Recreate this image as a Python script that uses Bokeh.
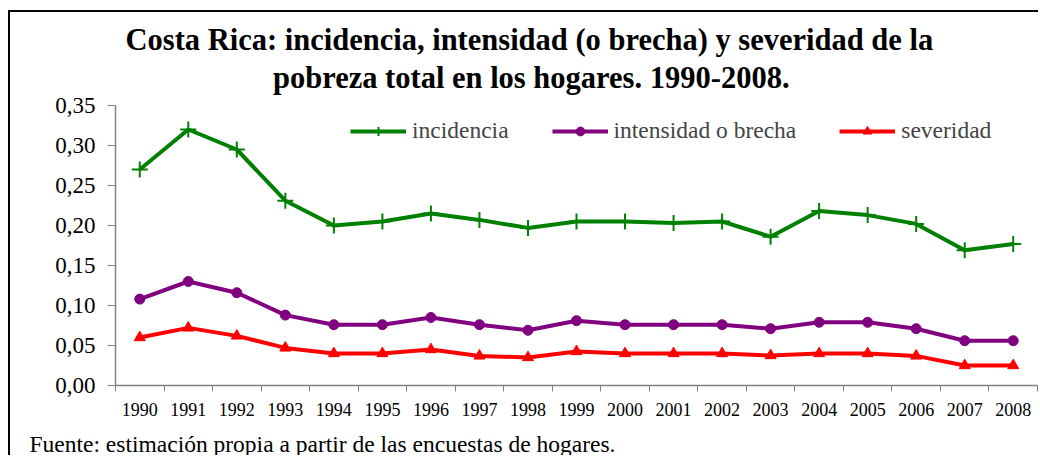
from bokeh.plotting import figure
from bokeh.models import (FixedTicker, CustomJSTickFormatter, Legend, LegendItem,
                          Title, Range1d, ColumnDataSource, LinearAxis)
from bokeh.embed import file_html
from bokeh.resources import INLINE

years = ["1990", "1991", "1992", "1993", "1994", "1995", "1996", "1997", "1998", "1999",
         "2000", "2001", "2002", "2003", "2004", "2005", "2006", "2007", "2008"]
incidencia = [0.270, 0.320, 0.295, 0.231, 0.200, 0.205, 0.215, 0.207, 0.197, 0.205,
              0.205, 0.203, 0.205, 0.186, 0.218, 0.213, 0.202, 0.169, 0.177]
intensidad = [0.108, 0.130, 0.116, 0.088, 0.076, 0.076, 0.085, 0.076, 0.069, 0.081,
              0.076, 0.076, 0.076, 0.071, 0.079, 0.079, 0.071, 0.056, 0.056]
severidad = [0.060, 0.072, 0.062, 0.047, 0.040, 0.040, 0.045, 0.037, 0.035, 0.0425,
             0.040, 0.040, 0.040, 0.0375, 0.040, 0.040, 0.037, 0.025, 0.025]
series_names = ["incidencia", "intensidad o brecha", "severidad"]
y_ticks = [0.0, 0.05, 0.10, 0.15, 0.20, 0.25, 0.30, 0.35]
y_labels = ["0,00", "0,05", "0,10", "0,15", "0,20", "0,25", "0,30", "0,35"]
title_lines = ["Costa Rica: incidencia, intensidad (o brecha) y severidad de la",
               "pobreza total en los hogares. 1990-2008."]
footer = "Fuente: estimación propia a partir de las encuestas de hogares."

SERIF = "Liberation Serif"
xpos = [i + 0.5 for i in range(len(years))]
src = ColumnDataSource(dict(x=xpos, inc=incidencia, ints=intensidad, sev=severidad))

p = figure(width=1030, height=445, output_backend="svg", toolbar_location=None, title=None,
           x_range=Range1d(0, len(years)), y_range=Range1d(0, 0.35),
           min_border_left=105, min_border_right=3, min_border_top=93, min_border_bottom=72,
           background_fill_color="white", border_fill_color="white",
           outline_line_color=None,
           styles={"border-top": "2px solid #000", "border-left": "2px solid #000",
                   "margin-left": "8px", "margin-top": "10px"})
p.grid.visible = False

# axes
ax = p.xaxis[0]
ax.ticker = FixedTicker(ticks=xpos, minor_ticks=list(range(len(years) + 1)))
ax.formatter = CustomJSTickFormatter(args=dict(labels=years),
                                     code="return labels[Math.floor(tick)];")
ax.major_tick_line_color = None
ax.major_tick_out = 0
ax.major_tick_in = 0
ax.minor_tick_out = 6
ax.minor_tick_in = 0
ax.minor_tick_line_color = "#808080"
ax.axis_line_color = "#808080"
ax.axis_line_width = 1.5
ax.major_label_standoff = 11
ax.major_label_text_font = SERIF
ax.major_label_text_font_size = "18px"
ax.major_label_text_color = "black"

# invisible spacer axis between the year labels and the source note
spacer = LinearAxis(ticker=FixedTicker(ticks=[xpos[-1]], minor_ticks=[]), axis_line_color=None,
                    major_tick_line_color="white", minor_tick_line_color=None,
                    major_tick_out=9, major_tick_in=0, minor_tick_out=0, minor_tick_in=0,
                    major_label_standoff=0, major_label_text_font_size="1px",
                    formatter=CustomJSTickFormatter(code="return '';"))
p.add_layout(spacer, "below")

ay = p.yaxis[0]
ay.ticker = FixedTicker(ticks=y_ticks, minor_ticks=[])
ay.formatter = CustomJSTickFormatter(args=dict(labels=y_labels, tvals=y_ticks), code="""
let best = 0;
for (let i = 0; i < tvals.length; i++) {
  if (Math.abs(tvals[i] - tick) < Math.abs(tvals[best] - tick)) best = i;
}
return labels[best];
""")
ay.major_tick_out = 8
ay.major_tick_in = 0
ay.major_tick_line_color = "#808080"
ay.axis_line_color = "#808080"
ay.axis_line_width = 1.5
ay.major_label_standoff = 12
ay.major_label_text_font = SERIF
ay.major_label_text_font_size = "23px"
ay.major_label_text_color = "black"

# series
GREEN, PURPLE, RED = "#008000", "#800080", "#FF0000"
l1 = p.line("x", "inc", source=src, line_color=GREEN, line_width=4)
m1 = p.scatter("x", "inc", source=src, marker="cross", size=16, line_color=GREEN, line_width=2)
l2 = p.line("x", "ints", source=src, line_color=PURPLE, line_width=4)
m2 = p.scatter("x", "ints", source=src, marker="circle", size=10, fill_color=PURPLE, line_color=PURPLE)
l3 = p.line("x", "sev", source=src, line_color=RED, line_width=4)
m3 = p.scatter("x", "sev", source=src, marker="triangle", size=11, fill_color=RED, line_color=RED)

legend = Legend(items=[LegendItem(label=series_names[0], renderers=[l1, m1]),
                       LegendItem(label=series_names[1], renderers=[l2, m2]),
                       LegendItem(label=series_names[2], renderers=[l3, m3])],
                orientation="horizontal", location=(235, 241),
                glyph_width=56, glyph_height=22, label_height=22, label_standoff=6,
                spacing=43, padding=0, margin=0,
                border_line_color=None, background_fill_alpha=0,
                label_text_font=SERIF, label_text_font_size="23.5px")
p.add_layout(legend, "center")

# title (two lines, first added is closest to the frame) and footer
p.add_layout(Title(text=title_lines[1], align="left", offset=157.5, standoff=22,
                   text_font=SERIF, text_font_size="30.5px", text_font_style="bold",
                   text_color="black"), "above")
p.add_layout(Title(text=title_lines[0], align="left", offset=10, standoff=-18,
                   text_font=SERIF, text_font_size="30.5px", text_font_style="bold",
                   text_color="black"), "above")
p.add_layout(Title(text=footer, align="left", offset=30 - 116, standoff=2,
                   text_font=SERIF, text_font_size="23.5px", text_font_style="normal",
                   text_color="black"), "below")

open("out.html", "w").write(file_html(p, INLINE))
